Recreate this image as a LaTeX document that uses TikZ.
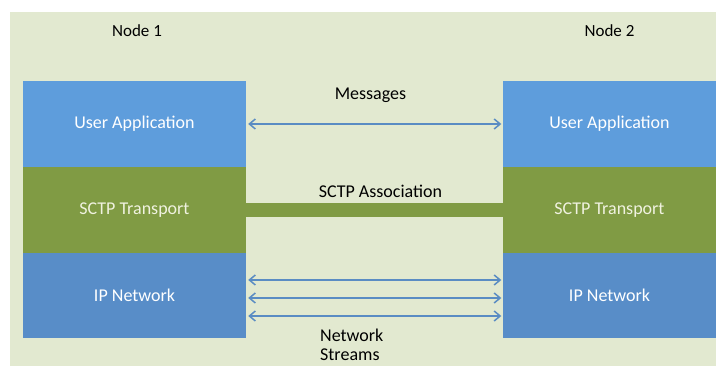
\documentclass[tikz,border=0pt]{standalone}
\usepackage{fontspec}
\setmainfont{Carlito}
\usepackage{xcolor}
\usetikzlibrary{arrows.meta}
\definecolor{bgGreen}{HTML}{E2E9D0}
\definecolor{appBlue}{HTML}{5E9DDC}
\definecolor{ipBlue}{HTML}{588DC8}
\definecolor{sctpGreen}{HTML}{809B44}
\definecolor{sctpText}{HTML}{F0F2E0}
\definecolor{arrowBlue}{HTML}{5A8CC3}

\begin{document}
\begin{tikzpicture}[x=1pt,y=-1pt,
    layer/.style={minimum height=86pt, inner sep=0pt, text=white, font=\fontsize{18}{21}\selectfont},
    txt/.style={anchor=base, inner sep=0pt, font=\fontsize{18}{21}\selectfont},
    stream/.style={draw=arrowBlue, line width=1.5pt, {Straight Barb[length=6pt,width=10pt]}-{Straight Barb[length=6pt,width=10pt]}, shorten <=2pt, shorten >=1.5pt},
    assoc/.style={draw=sctpGreen, line width=14pt}]
    \useasboundingbox (0,0) rectangle (716,366);
    \fill[white] (0,0) rectangle (716,366);
    \fill[bgGreen] (10,12) rectangle (716,366);

    \node[txt, font=\fontsize{17}{20}\selectfont] (node1) at (137,37) {Node 1};
    \node[txt, font=\fontsize{17}{20}\selectfont] (node2) at (609.5,37) {Node 2};

    \node[layer, fill=appBlue, minimum width=223pt] (app1) at (134.5,124) {User Application};
    \node[layer, fill=sctpGreen, text=sctpText, minimum width=223pt] (sctp1) at (134.5,210) {SCTP Transport};
    \node[layer, fill=ipBlue, minimum width=223pt, minimum height=85pt] (ip1) at (134.5,295.5) {IP Network};

    \node[layer, fill=appBlue, minimum width=213pt] (app2) at (609.5,124) {User Application};
    \node[layer, fill=sctpGreen, text=sctpText, minimum width=213pt] (sctp2) at (609.5,210) {SCTP Transport};
    \node[layer, fill=ipBlue, minimum width=213pt, minimum height=85pt] (ip2) at (609.5,295.5) {IP Network};

    \node[txt] (msg) at (370.5,99.5) {Messages};
    \draw[stream] (app1.east) -- (app2.west);

    \node[txt] (assocLabel) at (380.5,197.5) {SCTP Association};
    \draw[assoc] (sctp1.east) -- (sctp2.west);

    \foreach \dy in {15.5,-2.5,-20.5}
        \draw[stream] ([yshift=\dy pt]ip1.east) -- ([yshift=\dy pt]ip2.west);
    \node[txt, anchor=base west] (net) at (320,342) {Network};
    \node[txt, anchor=base west] (streams) at (320,360.5) {Streams};
\end{tikzpicture}
\end{document}
